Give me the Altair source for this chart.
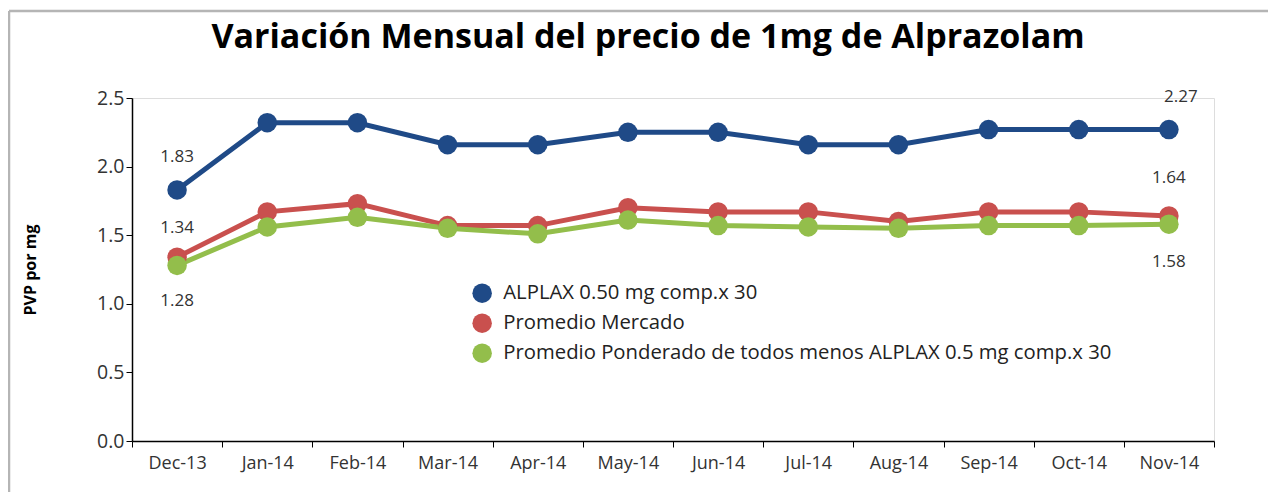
import altair as alt
import pandas as pd

months = ["Dec-13", "Jan-14", "Feb-14", "Mar-14", "Apr-14", "May-14",
          "Jun-14", "Jul-14", "Aug-14", "Sep-14", "Oct-14", "Nov-14"]
series_names = ["ALPLAX 0.50 mg comp.x 30",
                "Promedio Mercado",
                "Promedio Ponderado de todos menos ALPLAX 0.5 mg comp.x 30"]
alplax = [1.83, 2.32, 2.32, 2.16, 2.16, 2.25, 2.25, 2.16, 2.16, 2.27, 2.27, 2.27]
mercado = [1.34, 1.67, 1.73, 1.57, 1.57, 1.70, 1.67, 1.67, 1.60, 1.67, 1.67, 1.64]
ponderado = [1.28, 1.56, 1.63, 1.55, 1.51, 1.61, 1.57, 1.56, 1.55, 1.57, 1.57, 1.58]
colors = ["#1f4a87", "#c9504e", "#93be4b"]

# data labels: (series index, month index, dx, dy)
label_specs = [(0, 0, 0, -33), (1, 0, 0, -29), (2, 0, 0, 36),
               (0, 11, 12, -33), (1, 11, 0, -38), (2, 11, 0, 38)]

rows = []
for name, vals in zip(series_names, [alplax, mercado, ponderado]):
    for m, v in zip(months, vals):
        rows.append({"month": m, "value": v, "series": name})
df = pd.DataFrame(rows)

FONT = "Open Sans"
band_scale = alt.Scale(type="band", paddingInner=0, paddingOuter=0)

x_enc = alt.X("month:N", sort=months, title=None, scale=band_scale, bandPosition=0.5,
              axis=alt.Axis(labelAngle=0, labelFontSize=18, labelColor="#333333",
                            labelPadding=7, tickSize=6, tickColor="#000000",
                            domainColor="#000000", domainWidth=1.5, tickBand="extent"))
y_enc = alt.Y("value:Q", title="PVP por mg",
              scale=alt.Scale(domain=[0, 2.5], nice=False),
              axis=alt.Axis(values=[0, 0.5, 1.0, 1.5, 2.0, 2.5], format=".1f",
                            labelFontSize=19.5, labelColor="#333333", grid=False,
                            tickSize=6, tickColor="#000000", domainColor="#000000",
                            domainWidth=1.5, titleFontSize=16, titleFontWeight="bold",
                            titleColor="#000000", titlePadding=58))
color_enc = alt.Color("series:N",
                      scale=alt.Scale(domain=series_names, range=colors),
                      legend=alt.Legend(title=None, orient="none", legendX=340, legendY=185,
                                        labelFontSize=20.3, labelColor="#222222",
                                        symbolType="circle", symbolSize=380,
                                        symbolStrokeWidth=0, labelLimit=900,
                                        rowPadding=9, labelOffset=11))

lines = alt.Chart(df).mark_line(
    strokeWidth=5,
    point=alt.OverlayMarkDef(size=380, filled=True, opacity=1)
).encode(x=x_enc, y=y_enc, color=color_enc)

layers = [lines]
all_vals = [alplax, mercado, ponderado]
for si, mi, dx, dy in label_specs:
    ldf = pd.DataFrame([{"month": months[mi], "value": all_vals[si][mi],
                         "label": f"{all_vals[si][mi]:.2f}"}])
    layers.append(alt.Chart(ldf).mark_text(fontSize=17, color="#333333", dx=dx, dy=dy,
                                           font=FONT).encode(
        x=alt.X("month:N", sort=months, scale=band_scale, bandPosition=0.5),
        y="value:Q", text="label:N"))

# outer frame (top and left edges of the picture)
frame_df = pd.DataFrame([{"k": 1}])
top_rule = alt.Chart(frame_df).mark_rule(color="#b5b5b5", strokeWidth=2.5).encode(
    x=alt.value(-123), x2=alt.value(1150), y=alt.value(-87))
left_rule = alt.Chart(frame_df).mark_rule(color="#b5b5b5", strokeWidth=2.5).encode(
    x=alt.value(-123), y=alt.value(-87), y2=alt.value(420))
layers += [top_rule, left_rule]

chart = alt.layer(*layers).properties(
    width=1082, height=343,
    title=alt.Title("Variación Mensual del precio de 1mg de Alprazolam",
                    fontSize=34, fontWeight="bold", font=FONT, color="#000000",
                    anchor="middle", frame="group", offset=20, dx=-25, dy=65),
    autosize=alt.AutoSizeParams(type="none"),
    padding={"left": 124, "top": 90, "right": 54, "bottom": 51}
).configure_view(stroke="#d9d9d9", strokeWidth=1.5).configure(font=FONT)

chart.save("out.html", embed_options={"renderer": "svg", "actions": False})
